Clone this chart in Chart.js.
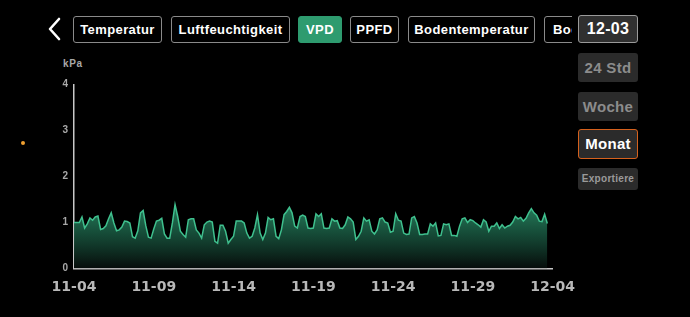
<!DOCTYPE html>
<html>
<head>
<meta charset="utf-8">
<script src="https://cdn.jsdelivr.net/npm/chart.js@4/dist/chart.umd.min.js"></script>
<style>
  body { margin: 0; background: #000; width: 690px; height: 317px; overflow: hidden; position: relative;
         font-family: "Liberation Sans", Arial, sans-serif; }
  .tabs { position: absolute; left: 73px; top: 16px; width: 499px; height: 28px; overflow: hidden; }
  .tab { position: absolute; top: 0; height: 25px; line-height: 25px; border: 1px solid #8a8a8a; border-radius: 3px;
         color: #fff; font-weight: bold; font-size: 13px; text-align: center; letter-spacing: 0.4px; white-space: nowrap; overflow: hidden; }
  .tab.aktiv { background: #2e9b6f; border-color: #2e9b6f; }
  .seite { position: absolute; left: 578px; width: 60px; border-radius: 3px; background: #2b2b2b; color: #8c8c8c;
           font-weight: bold; text-align: center; box-sizing: border-box; letter-spacing: 0.3px; }
  #chartBox { position: absolute; left: 40px; top: 55px; width: 545px; height: 255px; }
  .einheit { position: absolute; left: 63px; top: 58px; color: #a8a8a8; font-weight: bold; font-size: 10px; letter-spacing: 0.6px; }
  .punkt { position: absolute; left: 21px; top: 141px; width: 4px; height: 4px; border-radius: 50%; background: #f0a030; }
</style>
</head>
<body>

<svg style="position:absolute;left:44px;top:17px" width="20" height="24">
  <polyline points="15,2 6,12 15,22" fill="none" stroke="#fff" stroke-width="2.6" stroke-linecap="round" stroke-linejoin="round"/>
</svg>

<div class="tabs">
  <div class="tab" style="left:0;width:87px">Temperatur</div>
  <div class="tab" style="left:98px;width:117px">Luftfeuchtigkeit</div>
  <div class="tab aktiv" style="left:225px;width:42px">VPD</div>
  <div class="tab" style="left:277px;width:47px">PPFD</div>
  <div class="tab" style="left:335px;width:125px">Bodentemperatur</div>
  <div class="tab" style="left:471px;width:60px;text-align:left;padding-left:8px">Bodenfeuchte</div>
</div>

<div class="seite" style="top:15px;height:28px;line-height:26px;border:1px solid #9a9a9a;background:#303030;color:#fff;font-size:16px">12-03</div>
<div class="seite" style="top:53px;height:29px;line-height:29px;font-size:15px">24 Std</div>
<div class="seite" style="top:92px;height:29px;line-height:29px;font-size:15px">Woche</div>
<div class="seite" style="top:129px;height:30px;line-height:27px;border:1.5px solid #d5611d;color:#fff;font-size:15px">Monat</div>
<div class="seite" style="top:168px;height:22px;line-height:22px;font-size:10px;color:#9a9a9a">Exportiere</div>

<div class="punkt"></div>
<div class="einheit">kPa</div>

<div id="chartBox"><canvas id="myChart"></canvas></div>

<script>
// Achsenbeschriftung (alle 5 Tage)
const tickLabels = ["11-04", "11-09", "11-14", "11-19", "11-24", "11-29", "12-04"];
const messwerteProTag = 6; // alle 4 Stunden ein Wert

// VPD in kPa, ab 11-04 00:00
const vpd = [
  1.00, 1.00, 1.00, 1.12, 0.88, 0.97, 1.10, 1.05, 1.12, 1.14, 0.85, 0.87, 0.93, 1.08, 1.21, 0.99, 0.82, 0.84,
  0.90, 1.03, 1.02, 0.99, 0.69, 0.66, 0.82, 1.21, 1.26, 0.93, 0.68, 0.66, 0.86, 1.03, 1.05, 1.09, 0.75,
  0.66, 0.66, 0.99, 1.39, 1.13, 0.81, 0.74, 0.68, 1.06, 1.08, 1.08, 0.84, 0.77, 0.66, 0.95, 1.01, 1.03, 1.01,
  0.59, 0.55, 0.94, 0.94, 0.81, 0.55, 0.63, 0.70, 1.03, 1.03, 1.03, 0.99, 0.77, 0.66, 0.70, 0.88, 1.17, 0.77,
  0.63, 0.77, 1.11, 1.06, 1.08, 0.70, 0.65, 0.84, 1.17, 1.24, 1.33, 1.21, 0.92, 0.88, 1.13, 1.16, 1.13, 0.88,
  0.87, 0.88, 1.19, 1.13, 1.19, 0.88, 0.87, 0.88, 1.08, 1.03, 1.04, 0.88, 0.87, 0.95, 1.12, 1.08, 1.01, 0.63,
  0.70, 0.81, 1.10, 1.03, 1.06, 0.81, 0.75, 0.84, 1.08, 1.10, 1.01, 0.99, 0.79, 0.81, 1.19, 1.05, 1.03, 0.77,
  0.74, 0.75, 1.10, 1.13, 0.99, 0.74, 0.74, 0.75, 0.75, 0.97, 0.92, 0.99, 0.71, 0.72, 0.97, 0.95, 0.97, 0.72,
  0.72, 0.70, 0.92, 1.08, 1.10, 1.00, 1.06, 1.04, 0.99, 0.95, 0.90, 1.06, 1.01, 0.81, 0.92, 0.92, 0.99, 0.87,
  0.95, 0.88, 0.92, 0.94, 1.01, 1.13, 1.08, 1.11, 1.03, 1.09, 1.21, 1.30, 1.21, 1.16, 1.03, 1.02, 1.18, 0.98
];

const punkte = vpd.map((v, i) => ({ x: i / messwerteProTag, y: v }));

function verlauf(context) {
    const area = context.chart.chartArea;
    if (!area) return "rgba(30,110,80,0.6)";
    const ctx = context.chart.ctx;
    const g = ctx.createLinearGradient(0, context.chart.scales.y.getPixelForValue(1.4), 0, area.bottom);
    g.addColorStop(0, "rgba(42,140,102,0.9)");
    g.addColorStop(0.45, "rgba(24,84,62,0.9)");
    g.addColorStop(1, "rgba(6,12,10,1)");
    return g;
}

const config = {
    type: "line",
    data: {
        datasets: [{
            data: punkte,
            borderColor: "#3fc08e",
            borderWidth: 1.5,
            backgroundColor: verlauf,
            fill: "origin",
            pointRadius: 0,
            tension: 0
        }]
    },
    options: {
        responsive: true,
        maintainAspectRatio: false,
        animation: false,
        layout: { padding: { top: 29.5, right: 30, left: 0, bottom: 0 } },
        plugins: { legend: { display: false }, tooltip: { enabled: false } },
        scales: {
            x: {
                type: "linear",
                min: 0,
                max: (tickLabels.length - 1) * 5,
                grid: { display: false, drawTicks: false },
                border: { color: "#c8c8c8", width: 1.5 },
                ticks: {
                    stepSize: 5,
                    padding: 10,
                    color: "#b8b8b8",
                    font: { family: "DejaVu Sans", size: 14, weight: "bold" },
                    maxRotation: 0,
                    callback: (v) => tickLabels[v / 5]
                },
                afterFit: (s) => { s.height = 41.5; }
            },
            y: {
                min: 0,
                max: 4,
                grid: { display: false, drawTicks: false },
                border: { color: "#c8c8c8", width: 1.5 },
                ticks: {
                    stepSize: 1,
                    padding: 6,
                    color: "#a8a8a8",
                    font: { family: "Liberation Sans", size: 10, weight: "bold" }
                },
                afterFit: (s) => { s.width = 34; }
            }
        }
    }
};

const myChart = new Chart(document.getElementById("myChart"), config);
</script>
</body>
</html>
